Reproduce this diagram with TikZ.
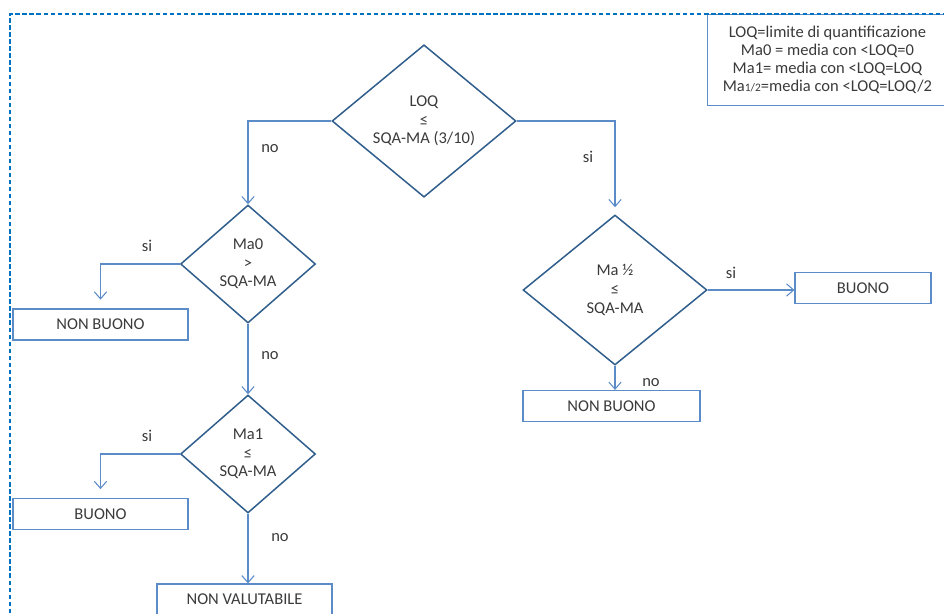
\documentclass[tikz,border=0pt]{standalone}
\usepackage{fontspec}
\setmainfont{Carlito}
\usetikzlibrary{shapes.geometric,arrows.meta,positioning}
\definecolor{dmdblue}{HTML}{2F5D8C}
\definecolor{lineblue}{HTML}{5B8CC8}
\definecolor{frameblue}{HTML}{0070C0}
\definecolor{txtgray}{HTML}{3A3A3A}
\tikzset{
  decision/.style={diamond, draw=dmdblue, line width=0.85pt, inner sep=0pt, align=center, text=txtgray},
  bigdec/.style={decision, minimum width=3.68cm, minimum height=3cm},
  smalldec/.style={decision, minimum width=2.7cm, minimum height=2.36cm},
  result/.style={rectangle, draw=lineblue, line width=0.7pt, minimum height=0.62cm, inner sep=0pt, text=txtgray},
  link/.style={draw=lineblue, line width=0.6pt, -{Straight Barb[length=4pt,width=7pt]}},
  lbl/.style={text=txtgray},
}
\begin{document}
\begin{tikzpicture}[x=0.02cm,y=-0.02cm,font=\fontsize{9.4}{10.6}\selectfont]
		\useasboundingbox (0,0) rectangle (944,613);
		% legend
		\node[draw=lineblue, line width=0.6pt, minimum width=4.8cm, minimum height=1.82cm, inner sep=0pt, anchor=north west, align=center, text=txtgray, font=\fontsize{9.4}{10.3}\selectfont] (key) at (707,14) {LOQ=limite di quantificazione\\Ma0 = media con <LOQ=0\\Ma1= media con <LOQ=LOQ\\Ma{\fontsize{6.5}{7}\selectfont 1/2}=media con <LOQ=LOQ/2};
		\draw[frameblue, line width=1.1pt, dash pattern=on 2.5pt off 1.5pt] (10,613) -- (10,14) -- (944,14);
		% decisions
		\node[bigdec] (lq) at (424,121) {LOQ\\≤\\SQA-MA (3/10)};
		\node[smalldec] (m0) at (248,264) {Ma0\\>\\SQA-MA};
		\node[smalldec] (m1) at (248,454) {Ma1\\≤\\SQA-MA};
		\node[bigdec] (mh) at (615,290) {Ma ½\\≤\\SQA-MA};
		% results
		\node[result, minimum width=3.5cm] (nb1) at (100.5,324.5) {NON BUONO};
		\node[result, minimum width=3.5cm] (b1) at (100.5,514) {BUONO};
		\node[result, minimum width=3.5cm] (nv) at (244.5,599.5) {NON VALUTABILE};
		\node[result, minimum width=2.72cm] (b2) at (863,288) {BUONO};
		\node[result, minimum width=3.54cm] (nb2) at (611.5,406) {NON BUONO};
		% connectors
		\draw[link] (lq.west) -| (m0.north);
		\draw[link, shorten >=4pt] (lq.east) -| (mh.north);
		\draw[link, shorten >=5pt] (m0.west) -| (nb1.north);
		\draw[link] (m0.south) -- (m1.north);
		\draw[link, shorten >=5pt] (m1.west) -| (b1.north);
		\draw[link] (m1.south) -- (m1.south |- nv.north);
		\draw[link] (mh.east) -- (mh.east -| b2.west);
		\draw[link] (mh.south) -- (mh.south |- nb2.north);
		% labels
		\node[lbl] (no1) at (270,149) {no};
		\node[lbl] (si1) at (588,157) {si};
		\node[lbl] (si2) at (147,246) {si};
		\node[lbl] (no2) at (270,356) {no};
		\node[lbl] (si3) at (147,436) {si};
		\node[lbl] (no3) at (280,538) {no};
		\node[lbl] (si4) at (731,273) {si};
		\node[lbl] (no4) at (651,383) {no};
	\end{tikzpicture}
\end{document}
